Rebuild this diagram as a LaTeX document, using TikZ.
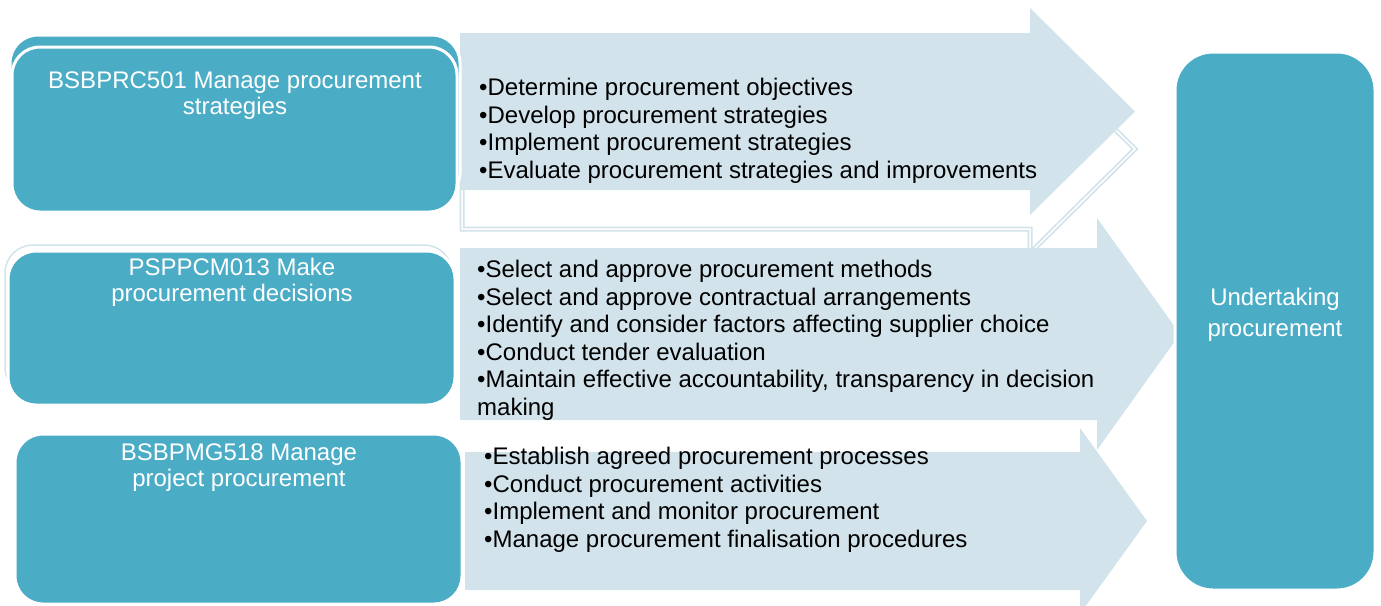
\documentclass[tikz,border=0pt]{standalone}
\usepackage{fontspec}
\setmainfont{Liberation Sans}
\usepackage{xcolor}
\usepackage{tikz}
\usetikzlibrary{positioning}
\definecolor{unitteal}{RGB}{75,172,198}
\definecolor{arrowpale}{RGB}{210,227,235}

\begin{document}
\begin{tikzpicture}
                \tikzset{x={(1pt, 0pt)}, y={(0pt, -1pt)}}
                \tikzset{unit/.style={fill=unitteal, draw=white, line width=3pt, rounded corners=28pt},
                         unitback/.style={fill=white, draw=arrowpale, line width=1.5pt, rounded corners=28pt},
                         unittext/.style={text=white, font=\fontsize{24}{25.5}\selectfont, align=center, anchor=north, inner sep=0pt},
                         bullets/.style={font=\fontsize{24}{27.6}\selectfont, align=left, anchor=north west, inner sep=0pt}}
                \useasboundingbox (0, 0) rectangle (1381, 605);
                \draw[draw=arrowpale, line width=5pt] (462, 71) -- (1030, 71) -- (1030, 46) -- (1135, 149) -- (1030, 253) -- (1030, 229) -- (462, 229) -- cycle;
                \draw[draw=white, line width=1.5pt] (462, 71) -- (1030, 71) -- (1030, 46) -- (1135, 149) -- (1030, 253) -- (1030, 229) -- (462, 229) -- cycle;
                \draw[fill=arrowpale, draw=none] (460, 33) -- (1030, 33) -- (1030, 8) -- (1135, 111.5) -- (1030, 215) -- (1030, 190) -- (460, 190) -- cycle;
                \draw[fill=arrowpale, draw=none] (460, 248) -- (1097, 248) -- (1097, 218) -- (1180, 334) -- (1097, 450) -- (1097, 420) -- (460, 420) -- cycle;
                \draw[fill=arrowpale, draw=none] (465, 452) -- (1080, 452) -- (1080, 428) -- (1147, 521) -- (1080, 614) -- (1080, 590) -- (465, 590) -- cycle;
                \draw[unit] (10, 35) rectangle (460, 200);
                \draw[unit] (12, 47) rectangle (457, 212);
                \draw[unitback] (5, 245) rectangle (452, 395);
                \draw[unit] (8, 251) rectangle (455, 405);
                \draw[unit] (15, 434) rectangle (462, 604);
                \draw[unit, rounded corners=38pt] (1175, 52) rectangle (1375, 590);
                \node[unittext] (prc) at (235, 72) {BSBPRC501 Manage procurement\\strategies};
                \node[unittext] (pcm) at (232, 258) {PSPPCM013 Make\\procurement decisions};
                \node[unittext] (pmg) at (239, 444) {BSBPMG518 Manage\\project procurement};
                \node[unittext, anchor=center, font=\fontsize{24}{31}\selectfont] (undertaking) at (1275, 315) {Undertaking\\procurement};
                \node[bullets] (prclist) at (479, 78) {•Determine procurement objectives\\•Develop procurement strategies\\•Implement procurement strategies\\•Evaluate procurement strategies and improvements};
                \node[bullets] (pcmlist) at (477, 260) {•Select and approve procurement methods\\•Select and approve contractual arrangements\\•Identify and consider factors affecting supplier choice\\•Conduct tender evaluation\\•Maintain effective accountability, transparency in decision\\making};
                \node[bullets] (pmglist) at (484, 447) {•Establish agreed procurement processes\\•Conduct procurement activities\\•Implement and monitor procurement\\•Manage procurement finalisation procedures};
            \end{tikzpicture}
\end{document}
